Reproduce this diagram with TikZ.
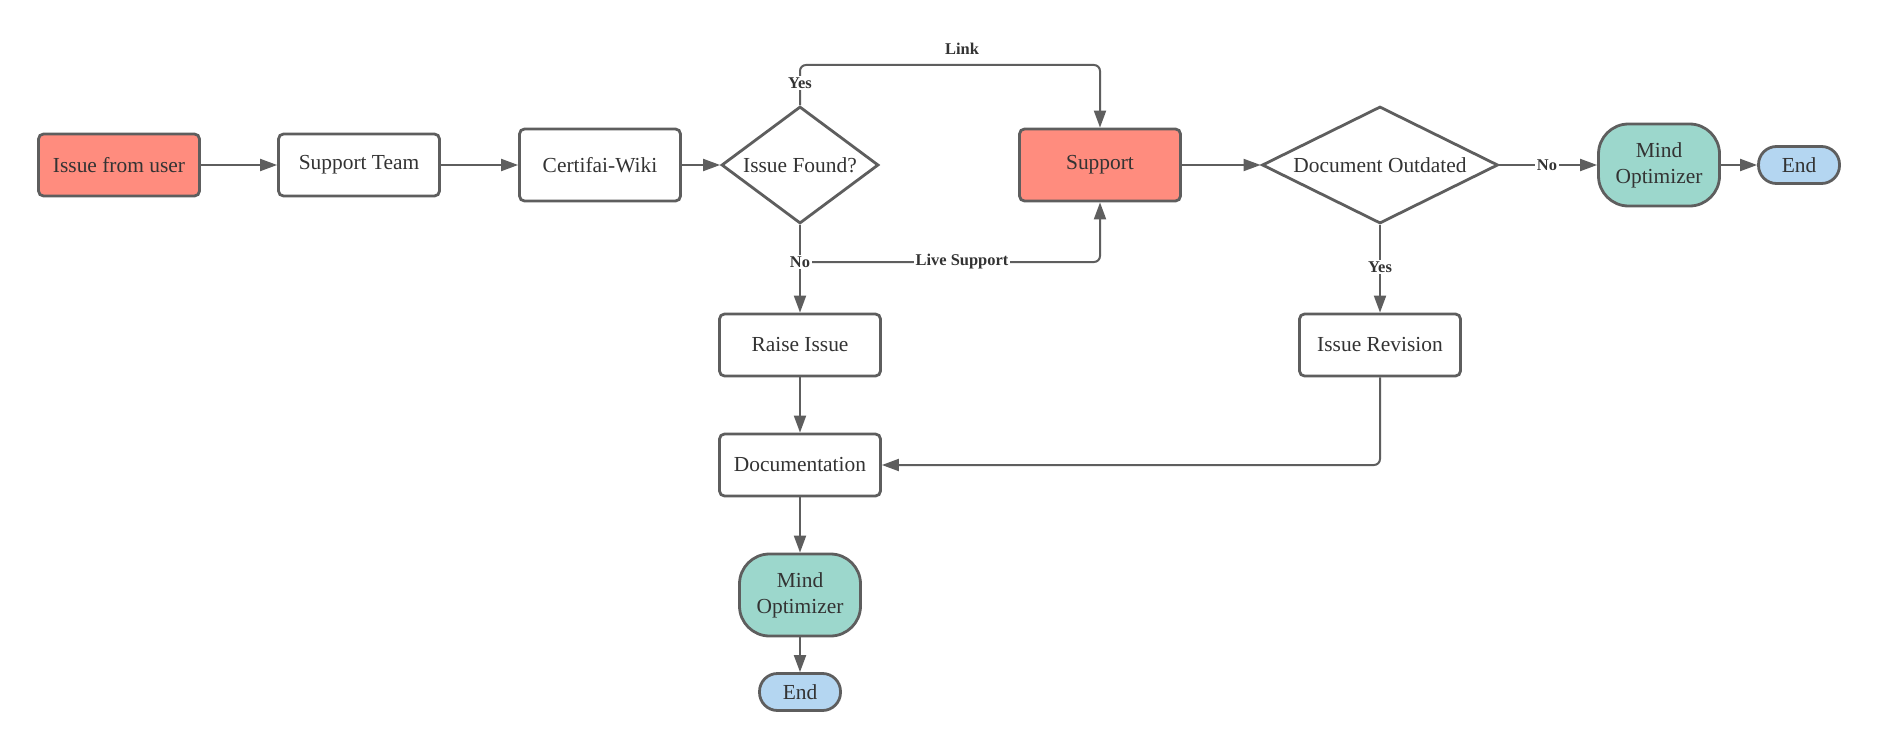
\documentclass[tikz,border=0pt]{standalone}
\usepackage{fontspec}
\setmainfont{Liberation Serif}
\usetikzlibrary{arrows.meta,shapes.geometric}
\definecolor{msalmon}{HTML}{FF8C7E}
\definecolor{mteal}{HTML}{9CD7CC}
\definecolor{mblue}{HTML}{B4D6F1}
\definecolor{mgray}{HTML}{5E5E5E}
\definecolor{mtxt}{HTML}{333333}
\begin{document}
\begin{tikzpicture}[x=1bp,y=-1bp,
  box/.style={draw=mgray, line width=2.8bp, rounded corners=5bp, minimum width=161bp, minimum height=62bp, inner sep=0pt, fill=white, text=mtxt, font=\fontsize{21.5}{26}\selectfont, align=center},
  dia/.style={diamond, draw=mgray, line width=2.8bp, inner sep=0pt, fill=white, text=mtxt, font=\fontsize{21.5}{26}\selectfont},
  term/.style={box, rounded corners=30bp, minimum width=121bp, minimum height=82bp, fill=mteal},
  endn/.style={box, rounded corners=18bp, minimum width=81bp, minimum height=37bp, fill=mblue},
  conn/.style={draw=mgray, line width=2bp, rounded corners=6bp, -{Triangle[length=17bp,width=12bp]}},
  lbl/.style={font=\bfseries\fontsize{16.5}{18}\selectfont, fill=white, inner sep=1.5bp, text=mtxt}
]
\useasboundingbox[fill=white] (0,0) rectangle (1880,750);
% nodes
\node[box, fill=msalmon] (iu) at (119,165) {Issue from user};
\node[box] (st) at (359,165) {Support Team};
\node[box, minimum height=72bp] (cw) at (600,165) {Certifai-Wiki};
\node[dia, shape aspect=1.34, minimum width=157bp, minimum height=117bp] (f) at (800,165) {Issue Found?};
\node[box, fill=msalmon, minimum height=72bp] (sp) at (1100,165) {Support};
\node[dia, shape aspect=2.02, minimum width=236bp, minimum height=117bp] (dd) at (1380,165) {Document Outdated};
\node[term] (mo1) at (1659,165) {Mind\\Optimizer};
\node[endn] (e1) at (1799,165) {End};
\node[box] (ri) at (800,345) {Raise Issue};
\node[box] (ir) at (1380,345) {Issue Revision};
\node[box] (doc) at (800,465) {Documentation};
\node[term] (mo2) at (800,595) {Mind\\Optimizer};
\node[endn] (e2) at (800,692) {End};
\coordinate (ytop) at (0,65);
\coordinate (nobr) at (800,262);
% connectors
\draw[conn] (iu) -- (st);
\draw[conn] (st) -- (cw);
\draw[conn] (cw) -- (f);
\draw[conn] (f.north) -- (f.north |- ytop) -| (sp.north);
\draw[conn] (f) -- (ri);
\draw[conn] (nobr) -| (sp.south);
\draw[conn] (sp) -- (dd);
\draw[conn] (dd) -- (mo1);
\draw[conn] (mo1) -- (e1);
\draw[conn] (dd) -- (ir);
\draw[conn] (ri) -- (doc);
\draw[conn] (ir.south) |- (doc.east);
\draw[conn] (doc) -- (mo2);
\draw[conn] (mo2) -- (e2);
% labels
\node[lbl] (lyes1) at (800,83) {Yes};
\node[lbl, fill=none] (llink) at (962,49) {Link};
\node[lbl] (lno1) at (800,262) {No};
\node[lbl] (llive) at (962,262) {Live Support};
\node[lbl] (lno2) at (1547,165) {No};
\node[lbl] (lyes2) at (1380,267) {Yes};
\end{tikzpicture}
\end{document}
